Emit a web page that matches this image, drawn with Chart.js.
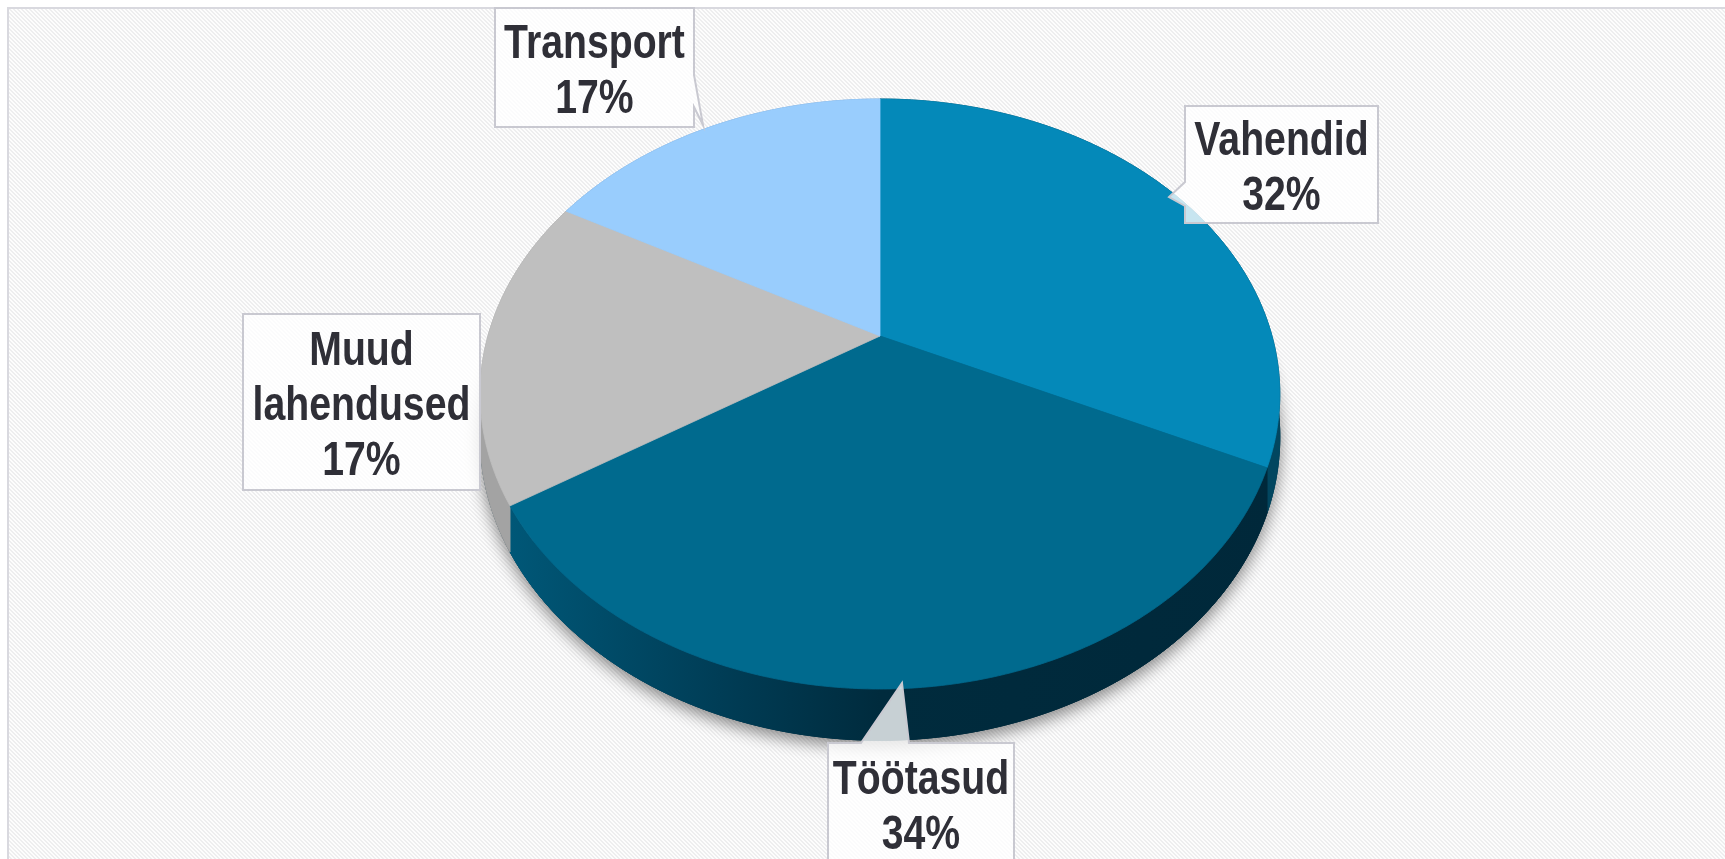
<!doctype html>
<html>

<head>
	<meta charset="utf-8">
	<title>3D Pie</title>
	<script src="https://cdn.jsdelivr.net/npm/chart.js@4.4.0/dist/chart.umd.min.js"></script>
	<style>
	html, body {
		margin: 0;
		padding: 0;
		background: #fff;
	}
	#wrap {
		width: 1725px;
		height: 859px;
	}
	</style>
</head>

<body>
	<div id="wrap">
		<canvas id="canvas"></canvas>
	</div>
	<script>
		const categories = ['Vahendid', 'Töötasud', 'Muud lahendused', 'Transport'];
		const shares = [32, 34, 17, 17];

		const topColors = ['#0489b9', '#006a8e', '#bfbfbf', '#99cdfd'];
		const sideColors = ['#02465f', null, '#a3a3a3', '#6f9ccc'];

		// look of the tilted pie (fractions of the radius)
		const squashX = 0.98;
		const squashY = 0.709;
		const persp = 0.1966;
		const drop = 0.103;

		// callout boxes, same order as categories
		const callouts = [
			{x: 1185, y: 106, w: 193, h: 117, tail: {side: 'left', a: 182, b: 206, tx: 1169, ty: 197}},
			{x: 828, y: 743, w: 186, h: 121, tail: {side: 'top', a: 861, b: 909, tx: 902, ty: 683}},
			{x: 243, y: 314, w: 237, h: 176, tail: null},
			{x: 495, y: 8, w: 199, h: 119, tail: {side: 'right', a: 75, b: 107, tx: 703, ty: 125}}
		];

		function hatchPattern(ctx) {
			const c = document.createElement('canvas');
			c.width = 4;
			c.height = 4;
			const p = c.getContext('2d');
			p.fillStyle = '#fdfdfd';
			p.fillRect(0, 0, 4, 4);
			p.fillStyle = '#eeeeef';
			for (let i = 0; i < 4; i++) {
				p.fillRect(i, i, 1, 1);
				p.fillRect((i + 1) % 4, i, 1, 1);
			}
			return ctx.createPattern(c, 'repeat');
		}

		const backdrop = {
			id: 'backdrop',
			beforeDraw(chart) {
				const ctx = chart.ctx;
				const w = chart.width, h = chart.height;
				ctx.save();
				ctx.fillStyle = '#ffffff';
				ctx.fillRect(0, 0, w, h);
				ctx.fillStyle = hatchPattern(ctx);
				ctx.fillRect(9, 9, w, h);
				ctx.fillStyle = '#d9d9df';
				ctx.fillRect(7, 7, w, 2);
				ctx.fillRect(7, 7, 2, h);
				ctx.restore();
			}
		};

		// disc point at canvas angle a and radius fraction r, seen in perspective
		function project(arc, a, r, dz) {
			const R = arc.outerRadius;
			const X = r * Math.cos(a);
			const Y = r * Math.sin(a);
			const s = 1 / (1 - persp * Y);
			return [arc.x + R * squashX * X * s, arc.y + R * (squashY * Y + dz) * s];
		}

		function rimPoints(arc, dz, reverse) {
			const n = Math.max(2, Math.ceil((arc.endAngle - arc.startAngle) / 0.008));
			const pts = [];
			for (let j = 0; j <= n; j++) {
				const t = reverse ? 1 - j / n : j / n;
				pts.push(project(arc, arc.startAngle + (arc.endAngle - arc.startAngle) * t, 1, dz));
			}
			return pts;
		}

		function fillPoly(ctx, pts, style) {
			ctx.beginPath();
			pts.forEach((p, j) => (j ? ctx.lineTo(p[0], p[1]) : ctx.moveTo(p[0], p[1])));
			ctx.closePath();
			ctx.fillStyle = style;
			ctx.fill();
			ctx.lineWidth = 0.8;
			ctx.strokeStyle = style;
			ctx.stroke();
		}

		const tiltedPie = {
			id: 'tiltedPie',
			beforeDatasetsDraw(chart) {
				const arcs = chart.getDatasetMeta(0).data;
				const ctx = chart.ctx;
				const left = arcs[0].x - arcs[0].outerRadius;
				const right = arcs[0].x + arcs[0].outerRadius;
				const grad = ctx.createLinearGradient(left, 0, right, 0);
				grad.addColorStop(0, '#005b7c');
				grad.addColorStop(0.3, '#003d56');
				grad.addColorStop(0.5, '#002b3d');
				grad.addColorStop(1, '#00283a');
				const side = (i) => sideColors[i] || grad;

				ctx.save();
				// soft shadow under the whole pie
				ctx.save();
				ctx.shadowColor = 'rgba(0,0,0,0.45)';
				ctx.shadowBlur = 16;
				ctx.shadowOffsetY = 6;
				const full = {x: arcs[0].x, y: arcs[0].y, outerRadius: arcs[0].outerRadius, startAngle: 0, endAngle: Math.PI * 2};
				fillPoly(ctx, rimPoints(full, drop, false), '#00283a');
				ctx.restore();

				// bottom faces and walls
				arcs.forEach((arc, i) => {
					fillPoly(ctx, [project(arc, 0, 0, drop)].concat(rimPoints(arc, drop, false)), side(i));
				});
				arcs.forEach((arc, i) => {
					fillPoly(ctx, rimPoints(arc, 0, false).concat(rimPoints(arc, drop, true)), side(i));
				});
				// top faces
				arcs.forEach((arc, i) => {
					fillPoly(ctx, [project(arc, 0, 0, 0)].concat(rimPoints(arc, 0, false)), topColors[i]);
				});
				ctx.restore();
				return false;
			}
		};

		const narrow = 0.8;

		function wrapLines(ctx, text, maxW) {
			const words = text.split(' ');
			const lines = [];
			let cur = '';
			words.forEach((wd) => {
				const test = cur ? cur + ' ' + wd : wd;
				if (cur && ctx.measureText(test).width * narrow > maxW) {
					lines.push(cur);
					cur = wd;
				} else {
					cur = test;
				}
			});
			lines.push(cur);
			return lines;
		}

		function calloutPath(ctx, b) {
			const L = b.x, T = b.y, R = b.x + b.w, B = b.y + b.h;
			const t = b.tail;
			ctx.beginPath();
			ctx.moveTo(L, T);
			if (t && t.side === 'top') {
				ctx.lineTo(t.a, T);
				ctx.lineTo(t.tx, t.ty);
				ctx.lineTo(t.b, T);
			}
			ctx.lineTo(R, T);
			if (t && t.side === 'right') {
				ctx.lineTo(R, t.a);
				ctx.lineTo(t.tx, t.ty);
				ctx.lineTo(R, t.b);
			}
			ctx.lineTo(R, B);
			ctx.lineTo(L, B);
			if (t && t.side === 'left') {
				ctx.lineTo(L, t.b);
				ctx.lineTo(t.tx, t.ty);
				ctx.lineTo(L, t.a);
			}
			ctx.closePath();
		}

		const callLabels = {
			id: 'callLabels',
			afterDraw(chart) {
				const ctx = chart.ctx;
				const total = shares.reduce((a, b) => a + b, 0);
				const fontSize = 49;
				const lineH = 55;
				ctx.save();
				ctx.font = 'bold ' + fontSize + 'px "Liberation Sans", Arial, sans-serif';
				categories.forEach((name, i) => {
					const b = callouts[i];
					calloutPath(ctx, b);
					ctx.fillStyle = 'rgba(255,255,255,0.78)';
					ctx.fill();
					ctx.lineWidth = 2;
					ctx.strokeStyle = '#c9c9d1';
					ctx.stroke();

					const lines = wrapLines(ctx, name, b.w - 10);
					lines.push(Math.round(shares[i] / total * 100) + '%');
					const midY = b.y + b.h / 2;
					const firstY = midY - (lines.length - 1) * lineH / 2;
					ctx.fillStyle = '#2f2f37';
					ctx.textAlign = 'center';
					ctx.textBaseline = 'alphabetic';
					lines.forEach((ln, j) => {
						ctx.save();
						ctx.translate(b.x + b.w / 2, firstY + j * lineH + 18);
						ctx.scale(narrow, 1);
						ctx.fillText(ln, 0, 0);
						ctx.restore();
					});
				});
				ctx.restore();
			}
		};

		window.onload = function() {
			const ctx = document.getElementById('canvas').getContext('2d');
			window.myPie = new Chart(ctx, {
				type: 'pie',
				data: {
					labels: categories,
					datasets: [{
						data: shares,
						backgroundColor: topColors,
						borderWidth: 0,
						radius: 400
					}]
				},
				options: {
					responsive: true,
					maintainAspectRatio: false,
					animation: false,
					layout: {
						padding: {left: 35, right: 0, top: 0, bottom: 187}
					},
					plugins: {
						legend: {display: false},
						tooltip: {enabled: false}
					}
				},
				plugins: [backdrop, tiltedPie, callLabels]
			});
		};
	</script>
</body>

</html>
